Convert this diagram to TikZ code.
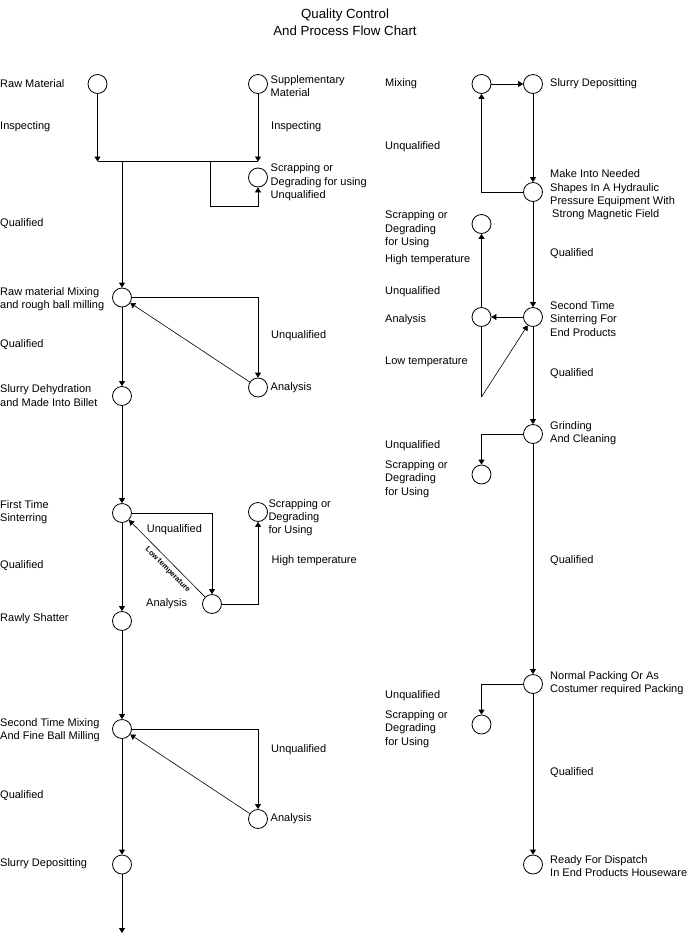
\documentclass[tikz,border=0pt]{standalone}
\usepackage{fontspec}
\setmainfont{Liberation Sans}
\usetikzlibrary{arrows.meta}
\begin{document}
\begin{tikzpicture}[x=1pt,y=-1pt,
  circ/.style={circle,draw,line width=0.8pt,minimum size=19pt,inner sep=0pt},
  lbl/.style={anchor=west,align=left,font=\fontsize{11}{13.3}\selectfont,inner sep=0pt},
  ln/.style={line width=0.8pt},
  arr/.style={line width=0.8pt,-{Triangle[width=6pt,length=5pt]}},
  diag/.style={line width=0.6pt,-{Triangle[width=6pt,length=5pt]}},
  small/.style={font=\bfseries\fontsize{7.5}{8}\selectfont,inner sep=0pt}]
\useasboundingbox (0,0) rectangle (690,935);

% title
\node[align=center,font=\fontsize{13.3}{17}\selectfont] (title) at (345,22.5) {Quality Control\\And Process Flow Chart};

% ---------- left column circles ----------
\node[circ] (rm)   at (97.5,84) {};
\node[circ] (sm)   at (258,84) {};
\node[circ] (sc1)  at (258,177.5) {};
\node[circ] (rmm)  at (122,297.5) {};
\node[circ] (an1)  at (258,387.5) {};
\node[circ] (sd)   at (122,396) {};
\node[circ] (fts)  at (122,513) {};
\node[circ] (an2)  at (212,604) {};
\node[circ] (sc2)  at (258,512) {};
\node[circ] (rs)   at (122,621) {};
\node[circ] (stm)  at (122,729) {};
\node[circ] (an3)  at (258,819) {};
\node[circ] (sdep) at (122,864.5) {};

\coordinate (j1) at (97.5,161.5);
\coordinate (j2) at (258,161.5);
\coordinate (j3) at (122,161.5);
\coordinate (j4) at (210.5,161.5);
\coordinate (b1) at (258,206.5);
\coordinate (endl) at (122,933);

% ---------- left column connectors ----------
\draw[arr] (rm) -- (j1);
\draw[arr] (sm) -- (j2);
\draw[ln] (j1) -- (j2);
\draw[arr] (j3) -- (rmm);
\draw[arr] (j4) |- (b1) -- (sc1);
\draw[arr] (rmm.east) -| (an1);
\draw[diag] (an1) -- (rmm);
\draw[arr] (rmm) -- (sd);
\draw[arr] (sd) -- (fts);
\draw[arr] (fts.east) -| (an2);
\draw[arr] (an2.east) -| (sc2);
\draw[diag] (an2) -- node[small,sloped,pos=0.42,below=4pt] (lowt) {Low temperature} (fts);
\draw[arr] (fts) -- (rs);
\draw[arr] (rs) -- (stm);
\draw[arr] (stm.east) -| (an3);
\draw[diag] (an3) -- (stm);
\draw[arr] (stm) -- (sdep);
\draw[arr] (sdep) -- (endl);

% ---------- left labels ----------
\node[lbl] (t1) at (0,84) {Raw Material};
\node[lbl] (t2) at (0,127) {Inspecting};
\node[lbl] (t3) at (0,224) {Qualified};
\node[lbl] (t4) at (0,299) {Raw material Mixing\\and rough ball milling};
\node[lbl] (t5) at (0,345) {Qualified};
\node[lbl] (t6) at (0,395.7) {Slurry Dehydration\\and Made Into Billet};
\node[lbl] (t7) at (0,512) {First Time\\Sinterring};
\node[lbl] (t8) at (0,566) {Qualified};
\node[lbl] (t9) at (0,618.5) {Rawly Shatter};
\node[lbl] (t10) at (0,730) {Second Time Mixing\\And Fine Ball Milling};
\node[lbl] (t11) at (0,796) {Qualified};
\node[lbl] (t12) at (0,863.5) {Slurry Depositting};

\node[lbl] (m1) at (270.5,85.8) {Supplementary\\Material};
\node[lbl] (m2) at (271,127) {Inspecting};
\node[lbl] (m3) at (270.5,182.3) {Scrapping or\\Degrading for using\\Unqualified};
\node[lbl] (m4) at (271,336) {Unqualified};
\node[lbl] (m5) at (270.5,387.7) {Analysis};
\node[lbl] (m6) at (146.7,530) {Unqualified};
\node[lbl] (m7) at (268.3,517.7) {Scrapping or\\Degrading\\for Using};
\node[lbl] (m8) at (271.5,561) {High temperature};
\node[lbl] (m9) at (146,603.3) {Analysis};
\node[lbl] (m10) at (271,749.3) {Unqualified};
\node[lbl] (m11) at (270.5,818.3) {Analysis};

% ---------- right column circles ----------
\node[circ] (mix) at (481.5,84) {};
\node[circ] (sdr) at (533,84) {};
\node[circ] (mk)  at (533,192) {};
\node[circ] (sc3) at (481.5,224) {};
\node[circ] (an4) at (481.5,317) {};
\node[circ] (sts) at (533,317) {};
\node[circ] (gr)  at (533,434) {};
\node[circ] (sc4) at (481.5,474.5) {};
\node[circ] (np)  at (533,684) {};
\node[circ] (sc5) at (481.5,724.5) {};
\node[circ] (rd)  at (533,864.5) {};

\coordinate (b2) at (481.5,397);

% ---------- right column connectors ----------
\draw[arr] (mix) -- (sdr);
\draw[arr] (sdr) -- (mk);
\draw[arr] (mk.west) -| (mix);
\draw[arr] (mk) -- (sts);
\draw[arr] (sts) -- (an4);
\draw[arr] (an4) -- (sc3);
\draw[ln] (an4) -- (b2);
\draw[diag] (b2) -- (sts);
\draw[arr] (sts) -- (gr);
\draw[arr] (gr.west) -| (sc4);
\draw[arr] (gr) -- (np);
\draw[arr] (np.west) -| (sc5);
\draw[arr] (np) -- (rd);

% ---------- right labels ----------
\node[lbl] (r1) at (385,84) {Mixing};
\node[lbl] (r2) at (550,84) {Slurry Depositting};
\node[lbl] (r3) at (385,146.7) {Unqualified};
\node[lbl] (r4) at (550,195) {Make Into Needed\\Shapes In A Hydraulic\\Pressure Equipment With\\\hspace*{2pt}Strong Magnetic Field};
\node[lbl] (r5) at (385,229.4) {Scrapping or\\Degrading\\for Using};
\node[lbl] (r6) at (550,253.3) {Qualified};
\node[lbl] (r7) at (385,259.3) {High temperature};
\node[lbl] (r8) at (385,291.7) {Unqualified};
\node[lbl] (r9) at (385,320) {Analysis};
\node[lbl] (r10) at (550,319) {Second Time\\Sinterring For\\End Products};
\node[lbl] (r11) at (385,361.7) {Low temperature};
\node[lbl] (r12) at (550,374) {Qualified};
\node[lbl] (r13) at (550,432.8) {Grinding\\And Cleaning};
\node[lbl] (r14) at (385,446) {Unqualified};
\node[lbl] (r15) at (385,479) {Scrapping or\\Degrading\\for Using};
\node[lbl] (r16) at (550,561) {Qualified};
\node[lbl] (r17) at (550,683.3) {Normal Packing Or As\\Costumer required Packing};
\node[lbl] (r18) at (385,696) {Unqualified};
\node[lbl] (r19) at (385,729) {Scrapping or\\Degrading\\for Using};
\node[lbl] (r20) at (550,773) {Qualified};
\node[lbl] (r21) at (550,865.8) {Ready For Dispatch\\In End Products Houseware};
\end{tikzpicture}
\end{document}
